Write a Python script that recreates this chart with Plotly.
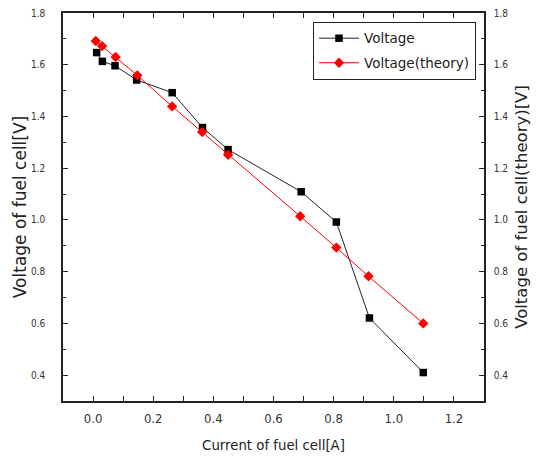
import plotly.graph_objects as go

# Measured fuel cell current and voltage, with the theoretical voltage curve
current = [0.012, 0.031, 0.073, 0.145, 0.263, 0.364, 0.449, 0.692, 0.809, 0.919, 1.098]
voltage = [1.647, 1.613, 1.596, 1.541, 1.492, 1.357, 1.272, 1.109, 0.992, 0.621, 0.410]

current_theory = [0.009, 0.030, 0.075, 0.147, 0.263, 0.363, 0.449, 0.689, 0.809, 0.916, 1.098]
voltage_theory = [1.692, 1.672, 1.630, 1.559, 1.439, 1.340, 1.252, 1.014, 0.893, 0.782, 0.600]

x_ticks = [0.0, 0.2, 0.4, 0.6, 0.8, 1.0, 1.2]
y_ticks = [0.4, 0.6, 0.8, 1.0, 1.2, 1.4, 1.6, 1.8]

NARROW = "Liberation Sans Narrow, Arial Narrow, DejaVu Sans Condensed, sans-serif"
TEXT_FAMILY = "DejaVu Sans, Verdana, sans-serif"
INK = "#222222"

fig = go.Figure()
fig.add_trace(go.Scatter(
    x=current, y=voltage, name="Voltage", mode="lines+markers",
    legendgroup="a",
    line=dict(color=INK, width=1),
    marker=dict(symbol="square", size=7.5, color="black"),
))
fig.add_trace(go.Scatter(
    x=current_theory, y=voltage_theory, name="Voltage(theory)", mode="lines+markers",
    legendgroup="b",
    line=dict(color="#ff0000", width=1),
    marker=dict(symbol="diamond", size=8, color="#ff0000"),
    yaxis="y2",
))

axis_common = dict(
    showgrid=False, zeroline=False, automargin=False,
    ticks="inside", ticklen=5, tickwidth=1, tickcolor=INK,
    showline=True, linecolor=INK, linewidth=1.5,
)
minor_common = dict(ticks="inside", ticklen=3, dtick=0.1, tickcolor=INK)
y_tick_font = dict(family=NARROW, size=10, color="#333333")

fig.update_layout(
    width=536, height=457,
    margin=dict(l=63, r=52, t=13, b=56),
    paper_bgcolor="white", plot_bgcolor="white",
    showlegend=True,
    legend=dict(
        x=0.981, y=0.977, xanchor="right", yanchor="top",
        bgcolor="white", bordercolor=INK, borderwidth=1,
        font=dict(family=TEXT_FAMILY, size=13.5, color=INK),
        traceorder="grouped", tracegroupgap=4, itemwidth=40,
    ),
    xaxis=dict(
        range=[-0.1, 1.3], tickvals=x_ticks, ticktext=[f"{v:.1f}" for v in x_ticks],
        mirror="allticks",
        minor=dict(tick0=0, **minor_common),
        tickfont=dict(family=NARROW, size=13, color="#333333"),
        ticklabelstandoff=5,
        title=dict(text="Current of fuel cell[A]",
                   font=dict(family=TEXT_FAMILY, size=13.3, color=INK), standoff=15),
        **axis_common,
    ),
    yaxis=dict(
        range=[0.3, 1.8], tickvals=y_ticks, ticktext=[f"{v:.1f}" for v in y_ticks],
        minor=dict(tick0=0.3, **minor_common),
        tickfont=y_tick_font,
        ticklabelstandoff=14,
        title=dict(text="Voltage of fuel cell[V]",
                   font=dict(family=TEXT_FAMILY, size=17, color=INK), standoff=0),
        **axis_common,
    ),
    yaxis2=dict(
        range=[0.3, 1.8], tickvals=y_ticks, ticktext=[f"{v:.1f}" for v in y_ticks],
        overlaying="y", side="right",
        minor=dict(tick0=0.3, **minor_common),
        tickfont=y_tick_font,
        ticklabelstandoff=6,
        title=dict(text="Voltage of fuel cell(theory)[V]",
                   font=dict(family=TEXT_FAMILY, size=16.5, color=INK), standoff=8),
        **axis_common,
    ),
)

fig.write_html("out.html")
